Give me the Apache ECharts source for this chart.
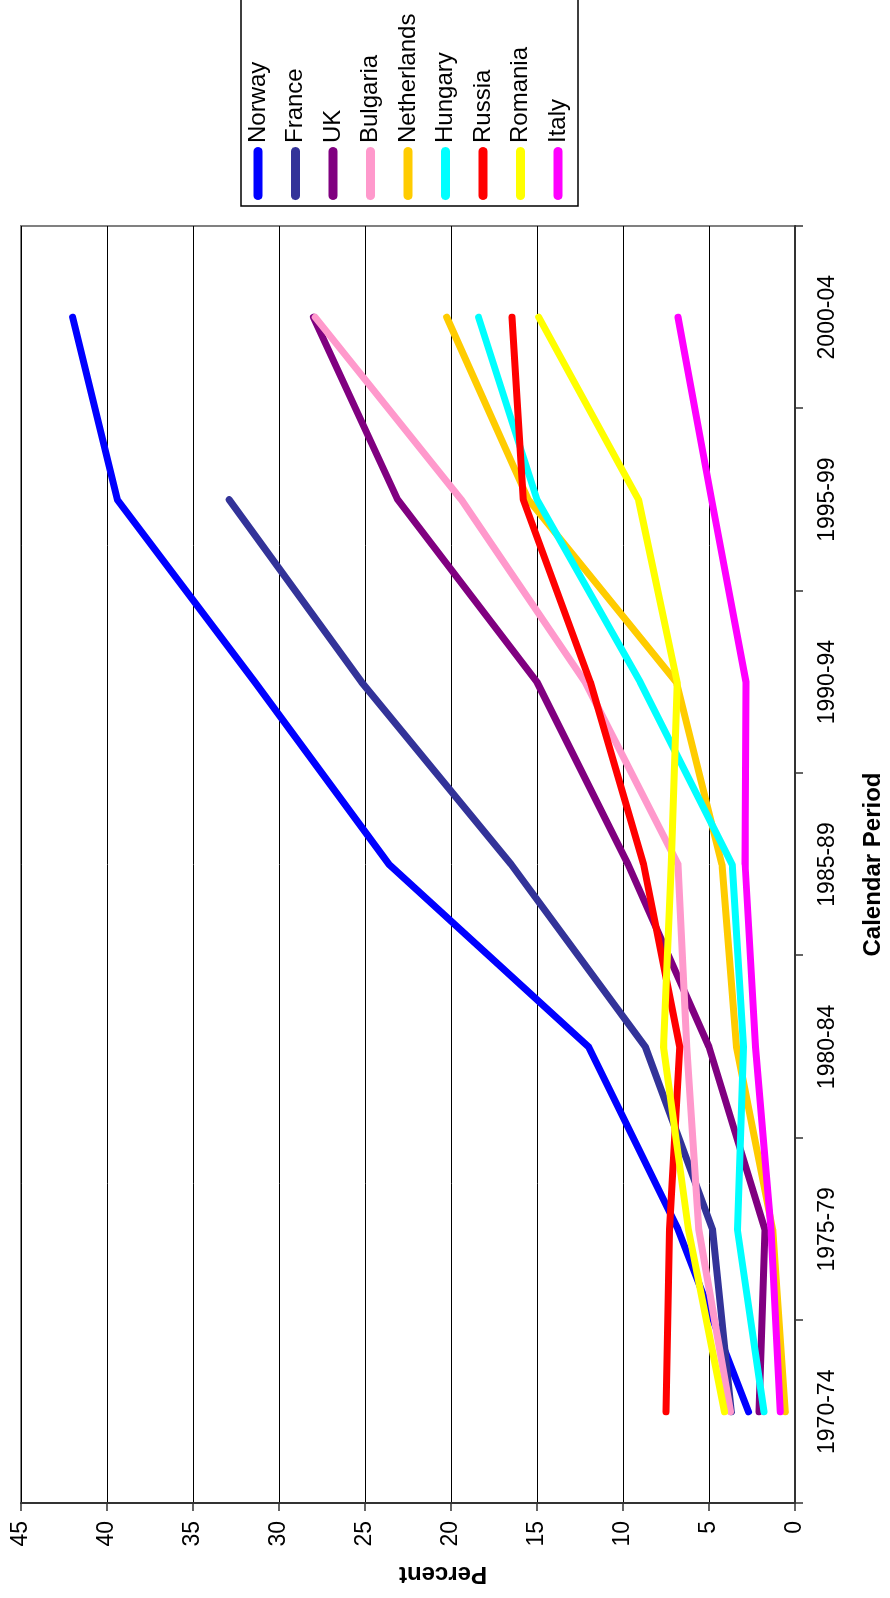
<!DOCTYPE html>
<html>
<head>
<meta charset="utf-8">
<script src="https://cdn.jsdelivr.net/npm/echarts@6/dist/echarts.min.js"></script>
<style>
  html, body { margin: 0; padding: 0; background: #fff; width: 890px; height: 1598px; overflow: hidden; }
  /* the chart is laid out landscape and turned a quarter turn counter-clockwise onto the portrait page */
  #chart { position: absolute; left: 0; top: 0; width: 1598px; height: 890px;
           transform-origin: 0 0; transform: translateY(1598px) rotate(-90deg); background: #fff; }
</style>
</head>
<body>
<div id="chart"></div>
<script>
const periods = ['1970-74', '1975-79', '1980-84', '1985-89', '1990-94', '1995-99', '2000-04'];
const percentTicks = [0, 5, 10, 15, 20, 25, 30, 35, 40, 45];

const norway      = [2.7, 6.8, 12.0, 23.6, 31.4, 39.4, 42.0];
const france      = [3.7, 4.8, 8.7, 16.5, 25.2, 32.9, null];
const uk          = [2.1, 1.75, 5.0, 9.7, 15.0, 23.1, 28.0];
const bulgaria    = [3.75, 5.6, 6.3, 6.8, 12.2, 19.4, 27.9];
const netherlands = [0.56, 1.3, 3.4, 4.25, 6.9, 15.5, 20.25];
const hungary     = [1.8, 3.35, 3.0, 3.65, 9.0, 15.0, 18.4];
const russia      = [7.5, 7.3, 6.7, 8.8, 11.9, 15.8, 16.45];
const romania     = [4.1, 6.2, 7.65, 7.2, 6.85, 9.1, 14.9];
const italy       = [0.86, 1.4, 2.3, 2.9, 2.85, 4.85, 6.8];

const countries = ['Norway', 'France', 'UK', 'Bulgaria', 'Netherlands', 'Hungary', 'Russia', 'Romania', 'Italy'];
const values = [norway, france, uk, bulgaria, netherlands, hungary, russia, romania, italy];
const colors = ['#0000FF', '#333399', '#800080', '#FF99CC', '#FFCC00', '#00FFFF', '#FF0000', '#FFFF00', '#FF00FF'];

const FONT = "'Liberation Sans', Arial, sans-serif";

const chart = echarts.init(document.getElementById('chart'), null, { renderer: 'canvas' });

chart.setOption({
  animation: false,
  backgroundColor: '#ffffff',
  grid: {
    left: 95, right: 226, top: 21, bottom: 93,
    show: true, borderColor: '#808080', borderWidth: 2, backgroundColor: 'transparent'
  },
  legend: {
    orient: 'vertical',
    left: 1392, top: 241,
    padding: [5, 24, 8, 6],
    itemGap: 13.5,
    itemWidth: 53, itemHeight: 9,
    icon: 'path://M4.5,0 L48.5,0 A4.5,4.5 0 0 1 48.5,9 L4.5,9 A4.5,4.5 0 0 1 4.5,0 Z',
    borderColor: '#000', borderWidth: 1.5,
    backgroundColor: '#fff',
    textStyle: { fontFamily: FONT, fontSize: 24, color: '#000', lineHeight: 24, padding: [0, 0, 0, -1] },
    data: countries
  },
  xAxis: {
    type: 'category',
    data: periods,
    boundaryGap: true,
    name: 'Calendar Period',
    nameLocation: 'middle',
    nameGap: 66,
    nameTextStyle: { fontFamily: FONT, fontSize: 24, fontWeight: 'bold', color: '#000' },
    axisLine: { show: true, lineStyle: { color: '#333', width: 2 } },
    axisTick: { show: true, alignWithLabel: false, length: 8, lineStyle: { color: '#333', width: 1.5 } },
    axisLabel: { fontFamily: FONT, fontSize: 23, color: '#000', margin: 21 },
    splitLine: { show: false }
  },
  yAxis: {
    type: 'value',
    min: 0, max: 45, interval: 5,
    axisLine: { show: true, lineStyle: { color: '#333', width: 2 } },
    axisTick: { show: true, length: 8, lineStyle: { color: '#333', width: 1.5 } },
    axisLabel: {
      fontFamily: FONT, fontSize: 23, color: '#000', margin: 18,
      formatter: v => percentTicks.includes(v) ? String(v) : ''
    },
    splitLine: { show: true, lineStyle: { color: '#000', width: 1 } }
  },
  graphic: [{
    type: 'text',
    x: 24, y: 443,
    rotation: Math.PI / 2,
    style: {
      text: 'Percent',
      fontFamily: FONT, fontSize: 24, fontWeight: 'bold', fill: '#000',
      align: 'center', verticalAlign: 'middle'
    }
  }],
  series: countries.map((name, i) => ({
    name: name,
    type: 'line',
    data: values[i],
    showSymbol: false,
    symbol: 'none',
    connectNulls: false,
    color: colors[i],
    lineStyle: { color: colors[i], width: 7, cap: 'round', join: 'round' },
    emphasis: { disabled: true }
  }))
});
</script>
</body>
</html>
